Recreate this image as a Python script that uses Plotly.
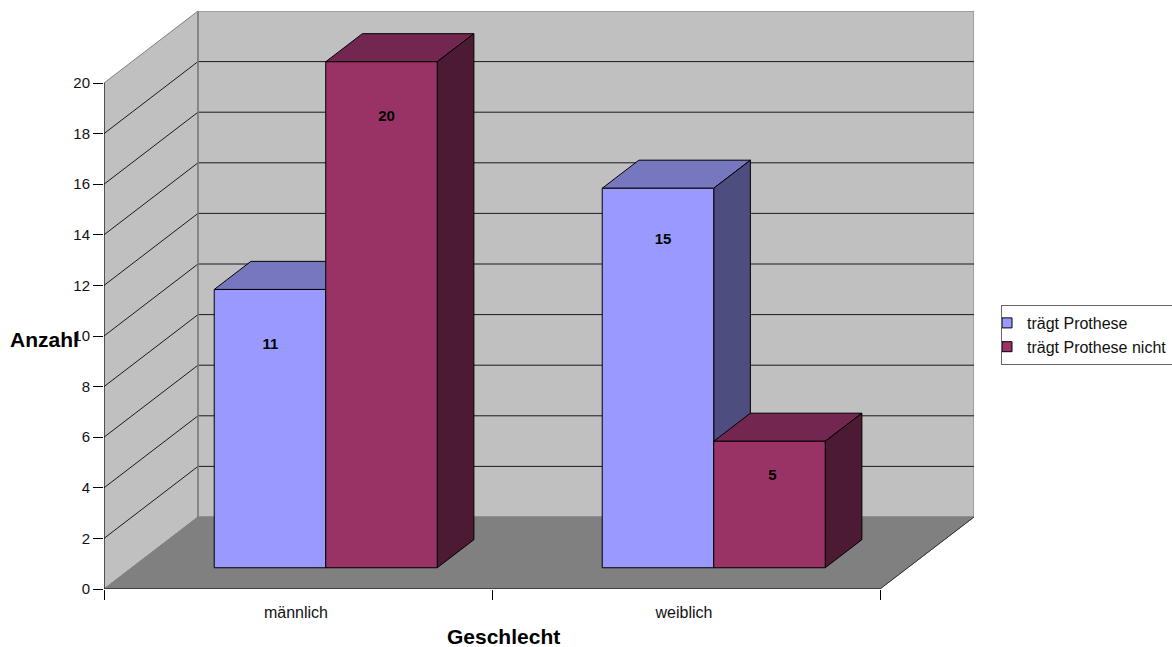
import plotly.graph_objects as go

# Survey counts per category
categories = ["männlich", "weiblich"]
traegt_prothese = [11, 15]
traegt_nicht = [20, 5]
series_names = ["trägt Prothese", "trägt Prothese nicht"]
y_ticks = list(range(0, 21, 2))
label_drop = [[2.21, 2.04], [2.21, 1.38]]
label_nudge_px = [[0.5, 5], [5, 3]]

# Oblique projection: how far the back wall is shifted, in axis units
PX_PER_CAT = 388.0
PX_PER_UNIT = 25.3
DEPTH_X = 94 / PX_PER_CAT
DEPTH_Y = 72 / PX_PER_UNIT
BOX_FRONT, BOX_BACK = 0.295, 0.685
BAR_WIDTH = 111.5 / PX_PER_CAT
Y_MAX = max(y_ticks)

FONT = "Liberation Sans, Arial, sans-serif"
INK = "#000000"
fig = go.Figure()


def poly(xs, ys, fill, line=INK, width=1):
    fig.add_trace(go.Scatter(
        x=xs, y=ys, mode="lines", fill="toself", fillcolor=fill,
        line=dict(color=line, width=width), showlegend=False,
        hoverinfo="skip", cliponaxis=False,
    ))


def path(xs, ys, color, width=1):
    fig.add_trace(go.Scatter(
        x=xs, y=ys, mode="lines", line=dict(color=color, width=width),
        showlegend=False, hoverinfo="skip", cliponaxis=False, connectgaps=False,
    ))


def box(x0, x1, value, front, top, side):
    """Front, top and side faces of one oblique bar."""
    fx, fy = BOX_FRONT * DEPTH_X, BOX_FRONT * DEPTH_Y
    bx, by = BOX_BACK * DEPTH_X, BOX_BACK * DEPTH_Y
    top_f, top_b = value + fy, value + by
    poly([x0 + fx, x1 + fx, x1 + bx, x0 + bx, x0 + fx],
         [top_f, top_f, top_b, top_b, top_f], top)
    poly([x1 + fx, x1 + bx, x1 + bx, x1 + fx, x1 + fx],
         [fy, by, top_b, top_f, fy], side)
    poly([x0 + fx, x1 + fx, x1 + fx, x0 + fx, x0 + fx],
         [fy, fy, top_f, top_f, fy], front)


n_cat = len(categories)

# Walls and floor
poly([0, DEPTH_X, DEPTH_X, 0, 0],
     [0, DEPTH_Y, Y_MAX + DEPTH_Y, Y_MAX, 0], "#C0C0C0", "#808080")
poly([DEPTH_X, n_cat + DEPTH_X, n_cat + DEPTH_X, DEPTH_X, DEPTH_X],
     [DEPTH_Y, DEPTH_Y, Y_MAX + DEPTH_Y, Y_MAX + DEPTH_Y, DEPTH_Y], "#C0C0C0", "#808080")
poly([0, n_cat, n_cat + DEPTH_X, DEPTH_X, 0],
     [0, 0, DEPTH_Y, DEPTH_Y, 0], "#808080", "#808080")

# Gridlines wrap from the left wall onto the back wall
gx, gy = [], []
for v in y_ticks[1:-1]:
    gx += [0, DEPTH_X, n_cat + DEPTH_X, None]
    gy += [v, v + DEPTH_Y, v + DEPTH_Y, None]
path(gx, gy, "#1a1a1a")

# Corner where the two walls meet, floor edge and the two axis lines
path([DEPTH_X, DEPTH_X], [DEPTH_Y, Y_MAX + DEPTH_Y], "#808080", 1.5)
path([n_cat, n_cat + DEPTH_X], [0, DEPTH_Y], "#333333")
path([0, n_cat], [0, 0], INK)
path([0, 0], [0, Y_MAX], INK)

# Bars, back to front within each category
palette = [("#9999FF", "#7777BF", "#4D4D80"), ("#993366", "#732650", "#4D1A33")]
values = [traegt_prothese, traegt_nicht]
lx, ly, lt = [], [], []
for c in range(n_cat):
    for s, series in enumerate(values):
        left = c + 0.5 + (s - 1) * BAR_WIDTH
        box(left, left + BAR_WIDTH, series[c], *palette[s])
        lx.append(left + BAR_WIDTH / 2 + BOX_FRONT * DEPTH_X + label_nudge_px[s][c] / PX_PER_CAT)
        ly.append(series[c] + BOX_FRONT * DEPTH_Y - label_drop[s][c])
        lt.append(str(series[c]))

fig.add_trace(go.Scatter(
    x=lx, y=ly, text=lt, mode="text", textposition="middle center",
    textfont=dict(family=FONT, size=15, color=INK, weight="bold"),
    showlegend=False, hoverinfo="skip", cliponaxis=False,
))

# Legend entries
for name, colours in zip(series_names, palette):
    fig.add_trace(go.Scatter(
        x=[None], y=[None], mode="markers", name=name,
        marker=dict(symbol="square", size=10, color=colours[0],
                    line=dict(color=INK, width=1)),
    ))

fig.update_layout(
    width=1172, height=647, autosize=False,
    paper_bgcolor="white", plot_bgcolor="rgba(0,0,0,0)",
    margin=dict(l=104, r=198, t=11, b=58, autoexpand=False),
    font=dict(family=FONT, size=16, color=INK),
    xaxis=dict(
        range=[0, n_cat + DEPTH_X], showgrid=False, zeroline=False, showline=False,
        tickmode="array", tickvals=[i + 0.5 - 2 / PX_PER_CAT for i in range(n_cat)],
        ticktext=categories, ticks="", ticklabelstandoff=12,
        tickfont=dict(size=16, family=FONT, color="#111111"),
        minor=dict(tickmode="array", tickvals=list(range(n_cat + 1)), ticks="outside",
                   ticklen=10, tickwidth=1, tickcolor=INK, showgrid=False),
    ),
    yaxis=dict(
        range=[0, Y_MAX + DEPTH_Y], showgrid=False, zeroline=False, showline=False,
        tickmode="array", tickvals=y_ticks, ticks="outside", ticklen=10, tickwidth=1,
        tickcolor=INK, tickfont=dict(size=15, family=FONT, color="#111111"),
    ),
    legend=dict(
        x=(1001 - 104) / 870, xanchor="left", y=(589 - 305) / 578, yanchor="top",
        bgcolor="white", bordercolor="#666666", borderwidth=1,
        font=dict(size=16, family=FONT, color="#111111"), indentation=-15,
        itemclick=False, itemdoubleclick=False,
    ),
    annotations=[
        dict(text="<b>Anzahl</b>", xref="paper", yref="paper",
             x=-(104 - 8) / 870, xanchor="left", y=(589 - 339) / 578, yanchor="middle",
             showarrow=False, font=dict(size=21, family=FONT, color=INK)),
        dict(text="<b>Geschlecht</b>", xref="paper", yref="paper",
             x=(503 - 104) / 870, xanchor="center", y=(589 - 636) / 578, yanchor="middle",
             showarrow=False, font=dict(size=21, family=FONT, color=INK)),
    ],
)

fig.write_html("out.html", config=dict(displayModeBar=False))
